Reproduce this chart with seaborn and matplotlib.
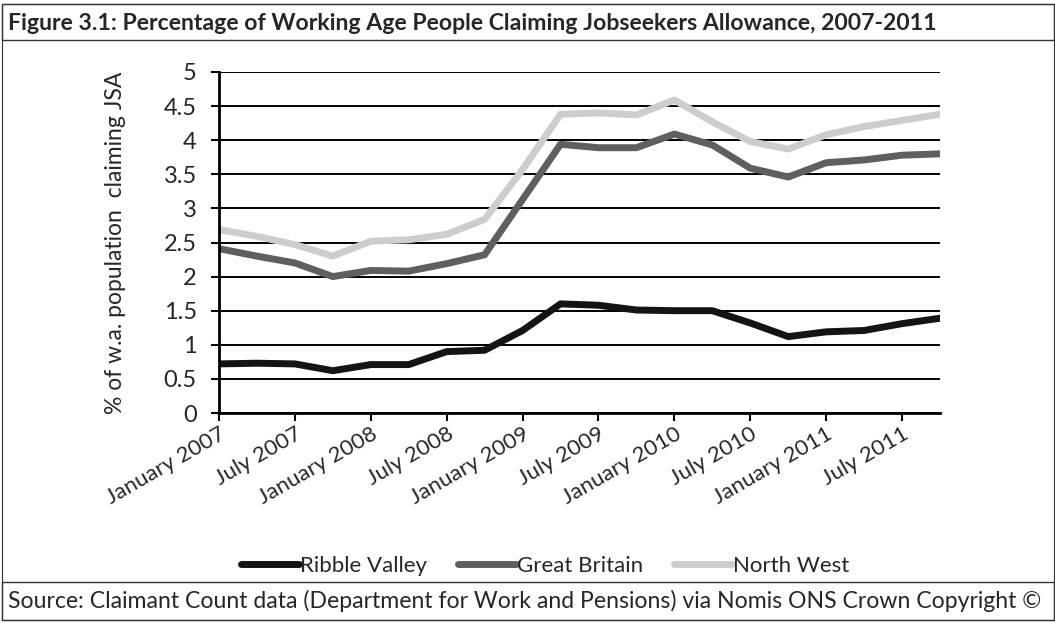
import matplotlib
matplotlib.use("Agg")
import matplotlib.pyplot as plt
import seaborn as sns
import pandas as pd
from matplotlib.patches import Rectangle
from matplotlib.lines import Line2D

quarters = ["Jan 2007", "Apr 2007", "Jul 2007", "Oct 2007",
            "Jan 2008", "Apr 2008", "Jul 2008", "Oct 2008",
            "Jan 2009", "Apr 2009", "Jul 2009", "Oct 2009",
            "Jan 2010", "Apr 2010", "Jul 2010", "Oct 2010",
            "Jan 2011", "Apr 2011", "Jul 2011", "Oct 2011"]
ribble_valley = [0.72, 0.73, 0.72, 0.62, 0.71, 0.71, 0.90, 0.92, 1.21, 1.60,
                 1.58, 1.51, 1.50, 1.50, 1.32, 1.12, 1.19, 1.21, 1.31, 1.39]
great_britain = [2.41, 2.30, 2.20, 2.00, 2.09, 2.08, 2.19, 2.32, 3.13, 3.94,
                 3.89, 3.89, 4.09, 3.93, 3.59, 3.46, 3.67, 3.71, 3.78, 3.80]
north_west = [2.69, 2.59, 2.47, 2.30, 2.52, 2.54, 2.62, 2.84, 3.57, 4.38,
              4.40, 4.37, 4.59, 4.27, 3.98, 3.87, 4.08, 4.20, 4.29, 4.38]
series_names = ["Ribble Valley", "Great Britain", "North West"]
tick_labels = ["January 2007", "July 2007", "January 2008", "July 2008",
               "January 2009", "July 2009", "January 2010", "July 2010",
               "January 2011", "July 2011"]
y_ticks = [0, 0.5, 1, 1.5, 2, 2.5, 3, 3.5, 4, 4.5, 5]
y_tick_labels = ["0", "0.5", "1", "1.5", "2", "2.5", "3", "3.5", "4", "4.5", "5"]

sns.set_theme(style="white")
plt.rcParams["font.family"] = ["Lato", "DejaVu Sans"]

rows = []
for name, vals in zip(series_names, [ribble_valley, great_britain, north_west]):
    for i, (q, v) in enumerate(zip(quarters, vals)):
        rows.append({"idx": i, "quarter": q, "series": name, "value": v})
df = pd.DataFrame(rows)

fig = plt.figure(figsize=(10.55, 6.23), dpi=100)
W, H = 1055, 623
ax = fig.add_axes([219 / W, 1 - 413 / H, (940 - 219) / W, (413 - 72) / H])

palette = {"Ribble Valley": "#141414", "Great Britain": "#5f5f5f", "North West": "#cdcdcd"}
sns.lineplot(data=df, x="idx", y="value", hue="series", hue_order=series_names,
             palette=palette, ax=ax, linewidth=5, legend=False, sort=True)
for line in ax.lines:
    line.set_solid_capstyle("round")
    line.set_solid_joinstyle("round")

ax.set_xlim(0, len(quarters) - 1)
ax.set_ylim(0, 5)
ax.set_yticks(y_ticks)
ax.set_yticklabels(y_tick_labels, fontsize=17)
ax.set_xticks(list(range(0, len(quarters), 2)))
ax.set_xticklabels(tick_labels, rotation=30, ha="right", rotation_mode="anchor", fontsize=16)
ax.tick_params(axis="both", which="both", direction="out", length=6, width=1.5,
               color="black", left=True, bottom=True)
ax.tick_params(axis="x", pad=2)
ax.tick_params(axis="y", pad=10)
ax.grid(axis="y", color="black", linewidth=1.4)
ax.set_axisbelow(True)
for s in ["top", "right"]:
    ax.spines[s].set_visible(False)
for s in ["left", "bottom"]:
    ax.spines[s].set_color("black")
    ax.spines[s].set_linewidth(2)
ax.set_xlabel("")
ax.set_ylabel("% of w.a. population  claiming JSA", fontsize=16.5, labelpad=27)

# legend
handles = [Line2D([], [], color=palette[n], linewidth=5, solid_capstyle="round") for n in series_names]
fig.legend(handles, series_names, loc="center", bbox_to_anchor=(545 / W, 1 - 566 / H),
           ncol=3, frameon=False, fontsize=16, handlelength=2.6, handletextpad=0.05,
           columnspacing=1.4)

# boxes
def box(x0, y0, x1, y1, lw=1.0, ls="-"):
    fig.add_artist(Rectangle((x0 / W, 1 - y1 / H), (x1 - x0) / W, (y1 - y0) / H,
                             transform=fig.transFigure, fill=False, edgecolor="#333333",
                             linewidth=lw, linestyle=ls))

box(2, 4, 1054, 620, lw=0.8)
box(2, 4, 1054, 40, lw=1.0)
box(2, 582, 1054, 620, lw=1.0)

fig.text(8 / W, 1 - 23 / H,
         "Figure 3.1: Percentage of Working Age People Claiming Jobseekers Allowance, 2007-2011",
         fontsize=16.6, fontweight="bold", ha="left", va="center")
fig.text(8 / W, 1 - 601 / H,
         "Source: Claimant Count data (Department for Work and Pensions) via Nomis ONS Crown Copyright \u00a9",
         fontsize=16.6, ha="left", va="center")

fig.savefig("out.png", dpi=100, facecolor="white")
